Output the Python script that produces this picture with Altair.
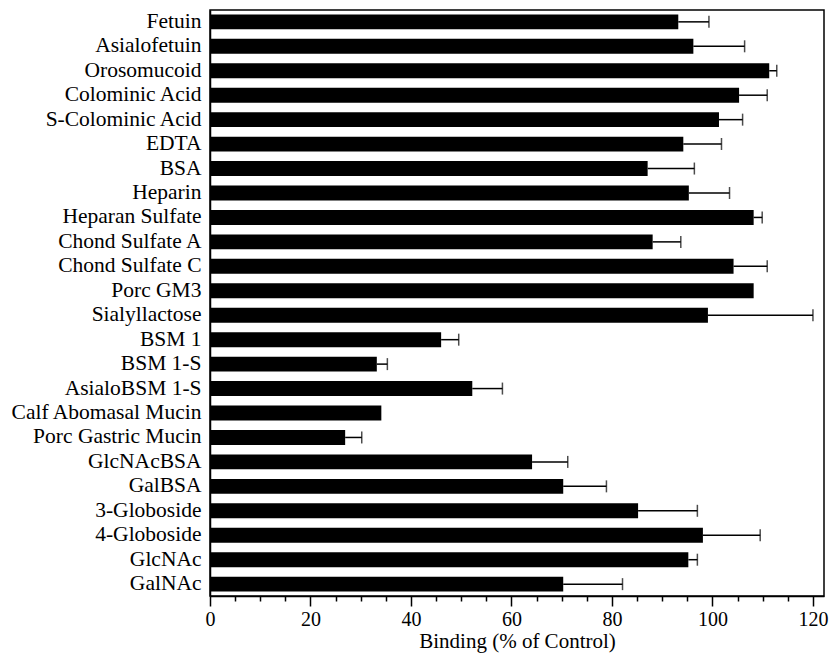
import altair as alt
import pandas as pd

names = ["Fetuin", "Asialofetuin", "Orosomucoid", "Colominic Acid", "S-Colominic Acid",
         "EDTA", "BSA", "Heparin", "Heparan Sulfate", "Chond Sulfate A", "Chond Sulfate C",
         "Porc GM3", "Sialyllactose", "BSM 1", "BSM 1-S", "AsialoBSM 1-S",
         "Calf Abomasal Mucin", "Porc Gastric Mucin", "GlcNAcBSA", "GalBSA",
         "3-Globoside", "4-Globoside", "GlcNAc", "GalNAc"]
values = [93.2, 96.2, 111.3, 105.3, 101.3, 94.2, 87.1, 95.3, 108.2, 88.1, 104.2,
          108.2, 99.1, 46.0, 33.2, 52.2, 34.1, 26.9, 64.1, 70.3, 85.2, 98.1, 95.2, 70.3]
upper = [99.3, 106.4, 112.8, 110.9, 106.0, 101.8, 96.4, 103.4, 109.9, 93.7, 110.9,
         None, 120.0, 49.5, 35.3, 58.2, None, 30.2, 71.2, 78.9, 97.0, 109.5, 97.0, 82.1]
major_ticks = [0, 20, 40, 60, 80, 100, 120]
minor_ticks = [5, 10, 15, 25, 30, 35, 45, 50, 55, 65, 70, 75, 85, 90, 95, 105, 110, 115]

df = pd.DataFrame({"name": names, "value": values, "upper": upper})
err = df.dropna(subset=["upper"])

FONT = "Liberation Serif"
xscale = alt.Scale(domain=[0, 122.2], nice=False, zero=True)
yscale = alt.Scale(paddingInner=0.39, paddingOuter=0.18)

y_axis = alt.Axis(title=None, ticks=False, labelFont=FONT, labelFontSize=21.5,
                  labelColor="black", labelPadding=9, domainColor="black",
                  domainWidth=1.5, labelLimit=400)
y_enc = alt.Y("name:N", sort=names, scale=yscale, axis=y_axis)

bars = alt.Chart(df).mark_bar(color="black").encode(
    x=alt.X("value:Q", scale=xscale,
            axis=alt.Axis(title="Binding (% of Control)", values=major_ticks,
                          orient="bottom", tickSize=10, tickWidth=1.5, tickColor="black",
                          labelFont=FONT, labelFontSize=20, labelColor="black",
                          labelPadding=3, titleFont=FONT, titleFontSize=21,
                          titleFontWeight="normal", titleColor="black", titlePadding=1,
                          domainColor="black", domainWidth=1.5, grid=False,
                          labelFlush=False)),
    y=y_enc,
)

rules = alt.Chart(err).mark_rule(color="black", strokeWidth=1.5).encode(
    x=alt.X("value:Q", scale=xscale,
            axis=alt.Axis(title=None, values=minor_ticks, orient="bottom", tickSize=5,
                          tickWidth=1.5, tickColor="black", labels=False, domain=False,
                          grid=False)),
    x2="upper:Q",
    y=y_enc,
)

caps = alt.Chart(err).mark_tick(color="black", thickness=1.5, size=12, orient="vertical").encode(
    x=alt.X("upper:Q", scale=xscale, axis=None),
    y=y_enc,
)

chart = alt.layer(bars, rules, caps).resolve_axis(x="independent").properties(
    width=614, height=586,
    autosize=alt.AutoSizeParams(type="none"),
    padding={"left": 202, "top": 2, "right": 5, "bottom": 57},
).configure_view(stroke="black", strokeWidth=1.5)

chart.save("out.html", embed_options={"renderer": "svg", "actions": False})
